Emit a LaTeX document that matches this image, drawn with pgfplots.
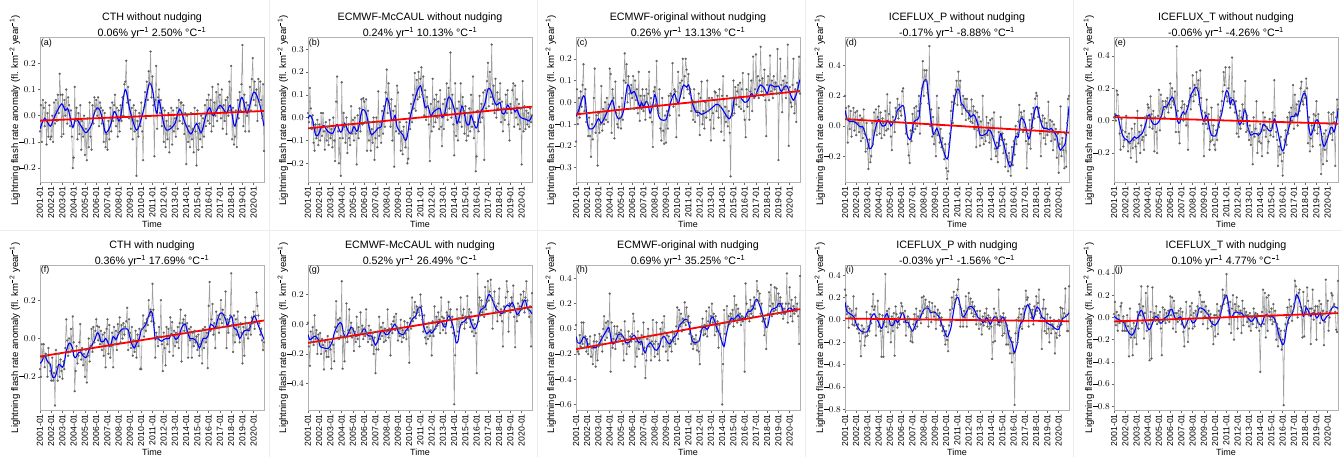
\documentclass[border=0pt]{standalone}
\usepackage{fontspec}
\setmainfont{Liberation Sans}
\usepackage{pgfplots}
\usepackage{pgfplotstable}
\pgfplotsset{compat=1.18}
\newcommand{\tk}{\fontsize{8.7}{10}\selectfont}
\newcommand{\tky}{\fontsize{9.3}{10}\selectfont}
\newcommand{\lb}{\fontsize{9}{10}\selectfont}
\newcommand{\yl}{\fontsize{9.6}{10}\selectfont}
\newcommand{\ttl}{\fontsize{10.7}{13}\selectfont}
\newcommand{\mi}{\hbox{\kern0.05em\rule[0.26em]{0.48em}{0.09em}\kern0.05em}}
\newcommand{\ylab}{Lightning flash rate anomaly (fl. km\textsuperscript{\mi2} year\textsuperscript{\mi1})}
\newcommand{\tline}[2]{#1\% yr\textsuperscript{\mi1} #2\% °C\textsuperscript{\mi1}}
\newcommand{\mn}[1]{\mbox{#1}}
\newcommand{\ylabfmt}{\pgfmathparse{\tick<-0.001}\ifdim\pgfmathresult pt>0.5pt \mi\fi\pgfmathparse{abs(\tick)}\pgfmathprintnumber[fixed,fixed zerofill,precision=1]{\pgfmathresult}}

% ---- gray monthly series (2001-01 ... 2020-12) ----
\pgfplotstableread[row sep=\\]{y\\
-0.06\\ 0.04\\ -0.10\\ 0.06\\ 0.03\\ -0.04\\ 0.05\\ -0.11\\ 0.01\\ -0.08\\ 0.04\\ -0.09\\
-0.08\\ 0.00\\ -0.10\\ 0.05\\ -0.03\\ 0.06\\ -0.02\\ 0.08\\ 0.01\\ 0.16\\ 0.08\\ -0.08\\
0.08\\ -0.07\\ 0.06\\ 0.00\\ 0.10\\ -0.03\\ 0.07\\ 0.04\\ -0.04\\ 0.02\\ -0.08\\ -0.20\\
-0.16\\ 0.11\\ -0.02\\ 0.03\\ -0.09\\ 0.01\\ -0.07\\ 0.04\\ -0.13\\ -0.02\\ -0.08\\ 0.00\\
-0.15\\ -0.05\\ -0.17\\ -0.01\\ -0.12\\ 0.05\\ -0.08\\ -0.13\\ 0.04\\ -0.03\\ 0.07\\ 0.02\\
0.06\\ 0.00\\ 0.07\\ -0.04\\ 0.05\\ 0.03\\ -0.03\\ 0.02\\ -0.10\\ 0.01\\ -0.12\\ -0.07\\
-0.13\\ -0.02\\ -0.09\\ 0.03\\ -0.06\\ 0.05\\ -0.02\\ 0.04\\ 0.08\\ -0.04\\ 0.03\\ -0.08\\
0.02\\ -0.06\\ 0.04\\ -0.02\\ 0.07\\ 0.00\\ 0.12\\ 0.13\\ 0.21\\ 0.05\\ 0.11\\ -0.01\\
0.06\\ -0.05\\ 0.03\\ -0.09\\ 0.04\\ -0.06\\ 0.02\\ -0.23\\ -0.02\\ -0.08\\ 0.01\\ -0.04\\
0.05\\ -0.06\\ -0.17\\ 0.03\\ 0.09\\ -0.01\\ 0.13\\ 0.06\\ 0.17\\ 0.12\\ 0.245\\ 0.07\\
0.15\\ 0.04\\ -0.155\\ 0.06\\ 0.19\\ -0.05\\ 0.07\\ 0.10\\ 0.01\\ 0.06\\ -0.04\\ 0.03\\
-0.10\\ 0.02\\ -0.12\\ -0.02\\ -0.09\\ 0.01\\ -0.14\\ -0.04\\ 0.03\\ -0.11\\ 0.02\\ -0.06\\
-0.01\\ -0.08\\ 0.03\\ -0.05\\ 0.06\\ -0.02\\ 0.05\\ 0.05\\ -0.03\\ 0.04\\ -0.07\\ 0.01\\
-0.185\\ 0.00\\ -0.10\\ -0.04\\ -0.12\\ 0.01\\ -0.09\\ -0.05\\ -0.14\\ 0.03\\ -0.06\\ -0.19\\
0.02\\ -0.13\\ -0.03\\ -0.09\\ 0.00\\ -0.12\\ -0.01\\ -0.08\\ 0.04\\ -0.04\\ 0.06\\ -0.02\\
0.08\\ -0.03\\ 0.06\\ -0.06\\ 0.11\\ -0.04\\ 0.05\\ 0.00\\ 0.09\\ -0.02\\ 0.12\\ 0.03\\
0.08\\ -0.01\\ 0.10\\ -0.05\\ 0.04\\ -0.02\\ 0.06\\ -0.07\\ 0.07\\ 0.00\\ 0.13\\ 0.02\\
0.19\\ -0.09\\ 0.03\\ -0.11\\ -0.08\\ 0.02\\ -0.12\\ 0.06\\ -0.01\\ 0.09\\ 0.02\\ 0.12\\
0.27\\ -0.04\\ 0.08\\ -0.06\\ 0.05\\ 0.00\\ 0.04\\ -0.06\\ 0.11\\ 0.02\\ 0.14\\ 0.22\\
0.06\\ 0.13\\ 0.04\\ 0.10\\ -0.02\\ 0.14\\ 0.05\\ 0.13\\ 0.06\\ -0.01\\ 0.12\\ -0.135\\
}\grA
\pgfplotstableread[row sep=\\]{y\\
0.02\\ -0.02\\ 0.13\\ 0.04\\ -0.05\\ 0.01\\ -0.11\\ -0.145\\ -0.03\\ -0.09\\ -0.01\\ -0.12\\
-0.03\\ -0.10\\ 0.02\\ -0.08\\ 0.02\\ -0.06\\ -0.14\\ -0.02\\ -0.10\\ -0.04\\ -0.12\\ -0.01\\
-0.09\\ -0.05\\ -0.13\\ 0.00\\ -0.10\\ -0.19\\ 0.07\\ 0.18\\ -0.06\\ -0.20\\ -0.09\\ -0.255\\
0.155\\ -0.09\\ 0.02\\ -0.04\\ -0.11\\ 0.00\\ -0.155\\ -0.03\\ -0.09\\ -0.12\\ 0.05\\ -0.07\\
-0.01\\ -0.10\\ 0.00\\ -0.07\\ -0.205\\ 0.01\\ -0.09\\ 0.04\\ -0.06\\ 0.08\\ -0.03\\ 0.085\\
0.07\\ -0.02\\ 0.08\\ -0.145\\ 0.03\\ -0.10\\ -0.02\\ -0.145\\ -0.05\\ -0.11\\ 0.00\\ -0.185\\
-0.09\\ 0.00\\ -0.13\\ 0.115\\ -0.08\\ -0.02\\ -0.11\\ 0.03\\ -0.07\\ 0.05\\ -0.04\\ 0.11\\
0.21\\ 0.02\\ 0.15\\ 0.06\\ -0.04\\ 0.08\\ -0.10\\ 0.03\\ -0.215\\ 0.05\\ -0.06\\ 0.14\\
0.11\\ -0.07\\ -0.02\\ -0.145\\ -0.06\\ -0.16\\ -0.04\\ -0.09\\ -0.13\\ -0.02\\ -0.20\\ -0.18\\
0.02\\ -0.05\\ 0.06\\ -0.02\\ 0.10\\ 0.04\\ 0.195\\ 0.03\\ 0.165\\ 0.08\\ 0.20\\ 0.09\\
0.17\\ 0.22\\ 0.10\\ 0.18\\ 0.01\\ 0.12\\ -0.01\\ 0.09\\ 0.05\\ -0.03\\ -0.19\\ 0.06\\
-0.06\\ 0.17\\ -0.04\\ 0.08\\ -0.02\\ 0.10\\ 0.00\\ 0.07\\ -0.05\\ 0.12\\ -0.04\\ -0.125\\
0.06\\ -0.05\\ 0.08\\ 0.02\\ 0.15\\ -0.01\\ 0.13\\ 0.04\\ 0.285\\ 0.00\\ 0.10\\ -0.03\\
-0.165\\ 0.15\\ -0.08\\ 0.04\\ -0.10\\ 0.07\\ -0.02\\ 0.15\\ -0.04\\ 0.09\\ 0.03\\ -0.07\\
0.05\\ -0.10\\ 0.02\\ -0.08\\ 0.04\\ -0.06\\ 0.10\\ -0.04\\ 0.18\\ -0.09\\ -0.02\\ -0.235\\
-0.17\\ 0.03\\ -0.06\\ 0.095\\ -0.02\\ 0.06\\ 0.00\\ 0.11\\ -0.185\\ 0.12\\ 0.04\\ 0.16\\
0.24\\ 0.05\\ 0.20\\ 0.09\\ 0.32\\ 0.06\\ 0.14\\ 0.02\\ 0.17\\ 0.00\\ 0.11\\ 0.04\\
0.08\\ 0.15\\ -0.02\\ 0.07\\ -0.06\\ 0.04\\ -0.01\\ 0.10\\ 0.02\\ 0.12\\ -0.03\\ -0.10\\
0.06\\ 0.02\\ 0.12\\ 0.15\\ -0.04\\ 0.14\\ 0.00\\ 0.08\\ -0.03\\ 0.06\\ -0.05\\ 0.04\\
-0.205\\ 0.16\\ -0.06\\ 0.05\\ -0.05\\ 0.03\\ -0.03\\ 0.02\\ -0.04\\ 0.04\\ -0.02\\ 0.01\\
}\grB
\pgfplotstableread[row sep=\\]{y\\
-0.18\\ 0.06\\ -0.10\\ 0.02\\ -0.07\\ 0.05\\ -0.02\\ 0.08\\ 0.175\\ -0.04\\ 0.06\\ -0.09\\
-0.05\\ -0.155\\ -0.07\\ -0.155\\ -0.25\\ -0.10\\ -0.17\\ 0.02\\ 0.155\\ -0.14\\ -0.06\\ -0.29\\
-0.05\\ -0.14\\ -0.10\\ 0.075\\ -0.13\\ -0.03\\ -0.10\\ 0.00\\ -0.08\\ 0.02\\ -0.09\\ -0.01\\
0.155\\ 0.13\\ -0.14\\ 0.06\\ 0.02\\ -0.165\\ 0.095\\ -0.05\\ -0.10\\ -0.115\\ -0.02\\ -0.07\\
-0.12\\ 0.02\\ -0.08\\ 0.10\\ 0.225\\ 0.09\\ 0.175\\ 0.00\\ 0.12\\ 0.04\\ -0.03\\ 0.08\\
0.02\\ 0.12\\ -0.03\\ 0.10\\ 0.01\\ 0.06\\ -0.05\\ 0.14\\ -0.085\\ 0.03\\ -0.03\\ 0.06\\
-0.04\\ 0.03\\ -0.08\\ 0.06\\ 0.00\\ 0.04\\ 0.14\\ -0.07\\ 0.02\\ -0.09\\ -0.205\\ 0.05\\
0.07\\ -0.01\\ 0.19\\ -0.03\\ -0.05\\ 0.06\\ -0.12\\ -0.175\\ 0.02\\ -0.13\\ -0.19\\ -0.06\\
-0.185\\ -0.04\\ -0.12\\ 0.03\\ -0.06\\ 0.04\\ 0.03\\ 0.18\\ -0.02\\ 0.06\\ 0.05\\ -0.16\\
0.01\\ 0.14\\ -0.06\\ 0.09\\ 0.04\\ 0.10\\ 0.20\\ 0.02\\ 0.12\\ 0.20\\ 0.15\\ 0.06\\
0.13\\ 0.04\\ 0.06\\ -0.04\\ 0.01\\ -0.08\\ 0.06\\ -0.09\\ 0.00\\ -0.04\\ -0.06\\ 0.04\\
-0.15\\ 0.02\\ 0.095\\ -0.10\\ -0.04\\ -0.12\\ 0.00\\ -0.07\\ 0.10\\ -0.04\\ 0.02\\ -0.08\\
-0.175\\ 0.02\\ -0.05\\ -0.12\\ 0.05\\ 0.045\\ -0.04\\ 0.03\\ -0.07\\ 0.06\\ -0.02\\ -0.135\\
0.03\\ 0.12\\ -0.175\\ -0.02\\ -0.09\\ 0.03\\ -0.11\\ -0.04\\ -0.14\\ -0.34\\ 0.02\\ -0.06\\
0.10\\ -0.05\\ 0.07\\ -0.01\\ 0.05\\ 0.08\\ -0.02\\ 0.09\\ -0.03\\ 0.06\\ 0.135\\ -0.04\\
-0.08\\ -0.16\\ 0.06\\ -0.02\\ 0.13\\ -0.08\\ 0.05\\ 0.10\\ -0.04\\ 0.21\\ 0.02\\ 0.06\\
0.22\\ 0.04\\ 0.12\\ 0.02\\ 0.10\\ 0.255\\ 0.05\\ 0.11\\ 0.03\\ 0.15\\ 0.01\\ -0.155\\
0.08\\ 0.12\\ 0.01\\ 0.215\\ 0.05\\ 0.10\\ 0.02\\ 0.12\\ 0.06\\ 0.09\\ 0.04\\ 0.245\\
-0.265\\ 0.04\\ 0.20\\ 0.08\\ -0.045\\ 0.10\\ 0.06\\ 0.12\\ 0.02\\ 0.09\\ 0.265\\ -0.20\\
0.07\\ 0.00\\ -0.02\\ 0.08\\ 0.20\\ -0.05\\ 0.06\\ -0.09\\ 0.09\\ 0.05\\ 0.21\\ 0.04\\
}\grC
\pgfplotstableread[row sep=\\]{y\\
0.20\\ 0.12\\ 0.05\\ -0.11\\ 0.13\\ -0.02\\ 0.10\\ -0.07\\ 0.04\\ 0.12\\ -0.03\\ 0.09\\
-0.06\\ 0.10\\ 0.02\\ -0.04\\ 0.07\\ -0.10\\ 0.05\\ -0.08\\ 0.11\\ -0.05\\ -0.17\\ 0.02\\
-0.15\\ -0.285\\ -0.09\\ -0.24\\ -0.20\\ 0.02\\ -0.12\\ 0.09\\ -0.03\\ 0.11\\ -0.06\\ 0.06\\
0.13\\ -0.05\\ 0.09\\ -0.08\\ 0.05\\ 0.02\\ -0.06\\ 0.10\\ -0.03\\ 0.21\\ -0.02\\ 0.08\\
0.155\\ -0.07\\ -0.16\\ 0.06\\ 0.03\\ -0.04\\ 0.12\\ 0.08\\ 0.18\\ 0.05\\ 0.14\\ 0.10\\
0.07\\ 0.23\\ 0.25\\ 0.12\\ 0.04\\ -0.05\\ 0.02\\ -0.12\\ -0.195\\ -0.245\\ -0.03\\ -0.10\\
0.08\\ -0.04\\ 0.12\\ -0.02\\ 0.13\\ 0.00\\ 0.10\\ 0.20\\ -0.05\\ 0.15\\ 0.25\\ 0.43\\
0.20\\ 0.37\\ 0.30\\ 0.37\\ 0.22\\ 0.15\\ 0.53\\ 0.00\\ 0.11\\ -0.07\\ 0.06\\ -0.12\\
-0.05\\ -0.20\\ 0.20\\ -0.06\\ 0.12\\ -0.11\\ -0.02\\ -0.14\\ -0.08\\ -0.16\\ -0.22\\ -0.12\\
-0.28\\ -0.35\\ -0.30\\ -0.12\\ -0.05\\ 0.10\\ 0.16\\ 0.02\\ 0.20\\ 0.15\\ 0.24\\ 0.30\\
0.14\\ 0.36\\ 0.22\\ 0.30\\ 0.14\\ 0.08\\ 0.20\\ 0.12\\ 0.18\\ 0.04\\ 0.18\\ 0.10\\
0.05\\ 0.10\\ 0.03\\ 0.175\\ 0.02\\ 0.13\\ -0.02\\ 0.10\\ -0.14\\ 0.09\\ -0.03\\ 0.06\\
-0.13\\ 0.03\\ -0.08\\ 0.20\\ -0.12\\ -0.03\\ -0.10\\ 0.06\\ -0.06\\ 0.02\\ -0.11\\ 0.04\\
-0.22\\ 0.05\\ -0.07\\ 0.09\\ -0.15\\ -0.20\\ -0.11\\ -0.24\\ -0.04\\ -0.13\\ 0.06\\ -0.09\\
-0.05\\ -0.18\\ -0.09\\ -0.27\\ -0.12\\ -0.20\\ -0.30\\ -0.18\\ -0.24\\ -0.33\\ -0.14\\ -0.26\\
-0.10\\ -0.19\\ 0.00\\ -0.12\\ -0.05\\ 0.03\\ 0.14\\ -0.02\\ 0.09\\ 0.06\\ -0.04\\ 0.10\\
-0.01\\ -0.10\\ -0.28\\ -0.05\\ -0.12\\ 0.04\\ -0.15\\ 0.08\\ -0.01\\ 0.12\\ 0.05\\ 0.18\\
0.22\\ 0.20\\ 0.06\\ 0.12\\ -0.05\\ -0.20\\ 0.03\\ 0.07\\ -0.08\\ 0.05\\ -0.12\\ 0.02\\
-0.06\\ 0.16\\ -0.04\\ 0.04\\ -0.10\\ 0.03\\ -0.16\\ 0.01\\ -0.09\\ -0.02\\ -0.21\\ -0.05\\
-0.31\\ -0.12\\ 0.13\\ -0.20\\ -0.08\\ -0.16\\ -0.28\\ -0.05\\ -0.27\\ 0.02\\ 0.18\\ 0.20\\
}\grD
\pgfplotstableread[row sep=\\]{y\\
0.02\\ 0.04\\ 0.00\\ 0.185\\ 0.16\\ 0.03\\ -0.08\\ -0.18\\ 0.01\\ -0.06\\ -0.16\\ -0.12\\
-0.07\\ 0.03\\ -0.10\\ -0.19\\ -0.08\\ -0.14\\ -0.23\\ -0.05\\ -0.17\\ -0.12\\ -0.02\\ -0.16\\
-0.255\\ 0.06\\ -0.14\\ -0.07\\ -0.20\\ -0.03\\ -0.12\\ -0.10\\ -0.18\\ 0.02\\ -0.09\\ 0.03\\
0.10\\ 0.08\\ -0.04\\ 0.15\\ 0.04\\ -0.05\\ 0.06\\ -0.19\\ 0.02\\ -0.07\\ -0.20\\ 0.03\\
0.19\\ -0.06\\ 0.16\\ 0.04\\ 0.12\\ 0.07\\ 0.02\\ 0.12\\ 0.08\\ 0.14\\ 0.05\\ 0.10\\
0.23\\ 0.08\\ 0.20\\ 0.12\\ 0.10\\ 0.18\\ -0.07\\ 0.46\\ 0.06\\ -0.07\\ -0.14\\ 0.02\\
0.08\\ 0.12\\ 0.00\\ 0.10\\ 0.04\\ -0.03\\ 0.09\\ -0.18\\ 0.12\\ 0.20\\ 0.07\\ 0.15\\
0.28\\ 0.12\\ 0.22\\ 0.16\\ 0.30\\ 0.20\\ 0.25\\ 0.10\\ 0.31\\ 0.14\\ 0.06\\ -0.02\\
-0.22\\ 0.05\\ -0.02\\ 0.13\\ -0.05\\ 0.04\\ -0.18\\ -0.13\\ 0.08\\ -0.12\\ -0.03\\ -0.15\\
-0.18\\ -0.06\\ -0.12\\ 0.10\\ -0.04\\ 0.02\\ 0.06\\ 0.12\\ 0.18\\ 0.30\\ 0.22\\ 0.33\\
0.15\\ 0.12\\ 0.20\\ 0.33\\ 0.08\\ 0.14\\ 0.39\\ 0.10\\ 0.18\\ 0.05\\ 0.12\\ -0.08\\
0.03\\ -0.10\\ 0.06\\ -0.05\\ 0.02\\ 0.10\\ -0.02\\ 0.07\\ 0.245\\ -0.07\\ 0.03\\ -0.06\\
-0.12\\ -0.03\\ -0.15\\ -0.07\\ -0.27\\ 0.02\\ -0.10\\ -0.05\\ 0.12\\ -0.20\\ -0.08\\ -0.13\\
-0.02\\ -0.14\\ -0.22\\ 0.05\\ -0.06\\ 0.02\\ -0.10\\ -0.04\\ -0.20\\ -0.13\\ 0.01\\ -0.09\\
-0.05\\ 0.05\\ -0.10\\ 0.25\\ 0.03\\ -0.07\\ -0.12\\ -0.28\\ -0.16\\ -0.21\\ -0.10\\ -0.25\\
-0.34\\ -0.20\\ -0.12\\ -0.06\\ -0.15\\ 0.02\\ -0.08\\ 0.05\\ -0.02\\ 0.08\\ 0.00\\ 0.22\\
-0.05\\ 0.16\\ 0.03\\ 0.10\\ -0.03\\ 0.12\\ 0.06\\ 0.20\\ 0.24\\ 0.12\\ 0.10\\ 0.18\\
0.14\\ 0.26\\ 0.20\\ -0.14\\ 0.02\\ -0.19\\ -0.11\\ -0.03\\ -0.16\\ 0.04\\ -0.06\\ 0.03\\
0.12\\ -0.08\\ 0.04\\ -0.04\\ -0.15\\ -0.33\\ -0.10\\ -0.27\\ -0.08\\ -0.18\\ -0.06\\ -0.25\\
-0.10\\ 0.05\\ -0.02\\ -0.08\\ 0.04\\ -0.12\\ 0.05\\ -0.01\\ -0.28\\ 0.02\\ 0.13\\ 0.07\\
}\grE
\pgfplotstableread[row sep=\\]{y\\
-0.16\\ -0.20\\ -0.03\\ -0.10\\ -0.03\\ -0.15\\ -0.08\\ -0.09\\ -0.20\\ -0.05\\ -0.13\\ -0.17\\
-0.22\\ -0.10\\ -0.22\\ -0.18\\ -0.35\\ -0.06\\ -0.15\\ -0.22\\ -0.08\\ -0.20\\ -0.11\\ -0.17\\
-0.21\\ -0.12\\ -0.16\\ -0.05\\ 0.10\\ -0.01\\ -0.09\\ 0.00\\ -0.07\\ 0.05\\ -0.06\\ 0.115\\
-0.02\\ -0.275\\ -0.17\\ -0.04\\ -0.13\\ -0.09\\ -0.02\\ 0.075\\ -0.11\\ -0.05\\ -0.14\\ -0.08\\
-0.20\\ -0.06\\ -0.23\\ -0.09\\ 0.00\\ -0.12\\ -0.04\\ 0.05\\ -0.07\\ 0.06\\ -0.02\\ 0.04\\
0.10\\ 0.065\\ -0.01\\ 0.06\\ -0.03\\ 0.04\\ -0.06\\ 0.02\\ -0.09\\ 0.03\\ -0.15\\ 0.05\\
0.10\\ -0.08\\ 0.07\\ -0.10\\ -0.04\\ 0.03\\ -0.15\\ 0.06\\ -0.03\\ 0.04\\ -0.06\\ 0.075\\
0.03\\ 0.11\\ -0.02\\ 0.07\\ 0.00\\ 0.08\\ 0.02\\ 0.06\\ 0.09\\ 0.16\\ -0.06\\ 0.10\\
0.03\\ -0.05\\ 0.06\\ -0.09\\ -0.01\\ -0.07\\ 0.04\\ -0.10\\ 0.02\\ -0.04\\ 0.05\\ -0.16\\
-0.16\\ 0.05\\ 0.12\\ 0.01\\ 0.08\\ 0.04\\ 0.10\\ 0.07\\ 0.20\\ 0.12\\ 0.15\\ 0.09\\
0.285\\ 0.15\\ 0.08\\ -0.10\\ 0.03\\ 0.00\\ -0.04\\ 0.06\\ 0.01\\ 0.20\\ -0.03\\ -0.17\\
0.03\\ -0.05\\ -0.14\\ 0.06\\ -0.03\\ 0.05\\ -0.07\\ 0.11\\ 0.02\\ 0.085\\ -0.09\\ 0.04\\
-0.04\\ 0.03\\ -0.02\\ 0.06\\ -0.05\\ 0.08\\ 0.15\\ -0.12\\ 0.08\\ 0.10\\ 0.04\\ 0.12\\
0.03\\ 0.08\\ -0.10\\ 0.05\\ -0.01\\ 0.06\\ -0.10\\ 0.03\\ -0.04\\ 0.04\\ -0.02\\ 0.01\\
-0.06\\ 0.02\\ -0.09\\ -0.03\\ 0.04\\ -0.13\\ 0.05\\ -0.05\\ 0.06\\ -0.02\\ 0.03\\ -0.155\\
0.17\\ 0.295\\ 0.04\\ 0.10\\ 0.18\\ 0.02\\ 0.08\\ -0.05\\ 0.14\\ 0.06\\ 0.12\\ 0.03\\
0.10\\ 0.20\\ 0.08\\ 0.15\\ 0.06\\ 0.12\\ 0.245\\ -0.05\\ 0.10\\ 0.03\\ 0.09\\ 0.12\\
0.34\\ 0.07\\ -0.07\\ 0.12\\ -0.02\\ 0.10\\ 0.02\\ 0.14\\ 0.06\\ -0.02\\ 0.08\\ 0.03\\
-0.13\\ 0.06\\ -0.09\\ 0.11\\ 0.02\\ 0.08\\ 0.00\\ 0.05\\ 0.07\\ 0.02\\ 0.11\\ 0.08\\
0.14\\ 0.05\\ 0.12\\ 0.24\\ 0.17\\ 0.12\\ 0.08\\ 0.02\\ 0.05\\ -0.01\\ -0.06\\ -0.02\\
}\grF
\pgfplotstableread[row sep=\\]{y\\
0.01\\ -0.15\\ -0.28\\ -0.05\\ -0.12\\ -0.02\\ -0.14\\ 0.06\\ -0.10\\ -0.04\\ -0.20\\ -0.07\\
-0.12\\ -0.06\\ -0.20\\ -0.10\\ -0.14\\ -0.305\\ -0.12\\ -0.18\\ -0.22\\ -0.08\\ -0.22\\ -0.12\\
-0.17\\ -0.30\\ -0.10\\ -0.14\\ -0.25\\ -0.02\\ 0.155\\ -0.05\\ 0.03\\ -0.10\\ 0.04\\ -0.08\\
0.29\\ -0.30\\ -0.05\\ -0.25\\ -0.09\\ 0.14\\ -0.12\\ -0.04\\ 0.10\\ -0.06\\ 0.01\\ -0.09\\
-0.03\\ -0.18\\ -0.05\\ -0.12\\ 0.05\\ -0.10\\ -0.02\\ -0.15\\ 0.08\\ -0.06\\ -0.01\\ -0.10\\
-0.03\\ -0.08\\ 0.10\\ -0.06\\ -0.12\\ -0.01\\ -0.10\\ -0.04\\ -0.14\\ -0.06\\ -0.20\\ -0.09\\
-0.33\\ -0.17\\ -0.05\\ -0.17\\ 0.05\\ -0.10\\ -0.02\\ -0.08\\ 0.01\\ -0.12\\ -0.03\\ -0.11\\
-0.05\\ 0.10\\ -0.09\\ -0.03\\ -0.21\\ 0.00\\ -0.06\\ 0.02\\ 0.05\\ -0.04\\ 0.07\\ -0.02\\
-0.11\\ -0.03\\ -0.08\\ 0.03\\ -0.12\\ -0.04\\ -0.09\\ 0.02\\ -0.06\\ -0.10\\ 0.01\\ -0.04\\
-0.26\\ 0.04\\ -0.03\\ 0.18\\ 0.02\\ 0.08\\ 0.15\\ 0.04\\ 0.12\\ 0.08\\ 0.11\\ 0.06\\
0.20\\ 0.12\\ 0.03\\ -0.05\\ 0.06\\ -0.09\\ -0.13\\ -0.02\\ -0.10\\ 0.01\\ -0.08\\ -0.04\\
-0.21\\ 0.02\\ -0.08\\ 0.12\\ -0.03\\ 0.05\\ -0.01\\ 0.08\\ 0.03\\ -0.06\\ 0.18\\ 0.05\\
-0.04\\ 0.04\\ 0.00\\ -0.06\\ 0.08\\ 0.06\\ 0.15\\ 0.03\\ 0.10\\ -0.02\\ 0.05\\ -0.06\\
-0.54\\ -0.21\\ -0.08\\ 0.10\\ -0.05\\ 0.04\\ -0.02\\ 0.18\\ 0.00\\ 0.06\\ 0.10\\ -0.03\\
0.05\\ 0.01\\ 0.19\\ 0.04\\ 0.10\\ -0.02\\ 0.08\\ -0.05\\ 0.03\\ -0.08\\ 0.00\\ -0.06\\
-0.33\\ 0.34\\ 0.02\\ 0.18\\ 0.06\\ 0.16\\ 0.08\\ 0.12\\ 0.05\\ 0.25\\ 0.10\\ 0.15\\
0.29\\ 0.16\\ 0.22\\ 0.30\\ 0.18\\ -0.03\\ 0.15\\ 0.22\\ 0.08\\ 0.12\\ 0.02\\ 0.14\\
0.24\\ 0.06\\ 0.10\\ 0.02\\ -0.15\\ 0.12\\ 0.08\\ 0.18\\ 0.29\\ 0.22\\ -0.05\\ 0.14\\
0.08\\ 0.18\\ 0.12\\ 0.26\\ 0.05\\ -0.155\\ 0.10\\ 0.02\\ 0.14\\ 0.06\\ 0.12\\ 0.20\\
0.10\\ 0.16\\ 0.22\\ 0.08\\ 0.18\\ 0.29\\ 0.16\\ 0.10\\ 0.05\\ 0.12\\ -0.15\\ 0.21\\
}\grG
\pgfplotstableread[row sep=\\]{y\\
0.03\\ -0.10\\ -0.18\\ -0.20\\ -0.05\\ -0.14\\ 0.05\\ -0.12\\ 0.05\\ -0.15\\ -0.06\\ -0.18\\
-0.08\\ -0.20\\ -0.12\\ -0.06\\ -0.22\\ -0.15\\ -0.28\\ -0.10\\ -0.05\\ -0.30\\ -0.10\\ -0.25\\
-0.14\\ -0.04\\ -0.12\\ -0.06\\ -0.18\\ 0.00\\ 0.10\\ -0.09\\ 0.05\\ -0.07\\ 0.06\\ -0.02\\
0.28\\ -0.34\\ 0.05\\ -0.15\\ -0.08\\ 0.02\\ -0.16\\ -0.04\\ 0.02\\ -0.10\\ -0.03\\ -0.08\\
-0.01\\ -0.06\\ -0.12\\ -0.25\\ 0.06\\ -0.08\\ -0.20\\ -0.12\\ -0.02\\ -0.14\\ -0.06\\ -0.10\\
-0.04\\ 0.12\\ 0.06\\ -0.30\\ -0.10\\ -0.22\\ -0.02\\ -0.16\\ -0.08\\ -0.12\\ -0.05\\ -0.20\\
0.05\\ -0.15\\ -0.39\\ -0.25\\ -0.08\\ 0.00\\ -0.14\\ -0.06\\ -0.25\\ -0.10\\ 0.07\\ -0.12\\
-0.22\\ -0.10\\ 0.05\\ -0.20\\ -0.12\\ -0.25\\ 0.00\\ -0.08\\ 0.05\\ -0.14\\ 0.10\\ -0.03\\
-0.18\\ -0.05\\ -0.25\\ -0.06\\ -0.14\\ -0.09\\ -0.18\\ -0.02\\ -0.10\\ -0.04\\ -0.12\\ 0.02\\
0.17\\ -0.08\\ 0.15\\ 0.02\\ 0.12\\ -0.02\\ 0.08\\ 0.05\\ 0.21\\ 0.03\\ 0.17\\ 0.06\\
0.10\\ -0.04\\ 0.05\\ -0.12\\ -0.06\\ -0.16\\ -0.08\\ -0.12\\ -0.05\\ -0.17\\ -0.10\\ -0.18\\
-0.28\\ -0.02\\ 0.02\\ 0.08\\ -0.05\\ 0.03\\ -0.04\\ 0.14\\ -0.06\\ 0.06\\ 0.17\\ 0.04\\
0.10\\ 0.20\\ 0.05\\ 0.12\\ -0.05\\ 0.10\\ -0.02\\ 0.06\\ -0.15\\ 0.03\\ -0.04\\ -0.08\\
-0.60\\ -0.28\\ 0.15\\ -0.04\\ 0.05\\ 0.18\\ 0.02\\ 0.10\\ 0.04\\ 0.12\\ 0.06\\ 0.15\\
0.02\\ 0.26\\ 0.08\\ 0.19\\ 0.05\\ 0.16\\ 0.08\\ 0.12\\ 0.03\\ 0.10\\ 0.06\\ 0.09\\
-0.34\\ 0.36\\ 0.20\\ 0.10\\ 0.15\\ 0.06\\ 0.23\\ 0.12\\ 0.18\\ 0.10\\ 0.25\\ 0.16\\
0.22\\ 0.38\\ 0.30\\ 0.22\\ 0.28\\ 0.12\\ 0.20\\ 0.06\\ 0.10\\ -0.05\\ 0.08\\ -0.16\\
0.02\\ 0.12\\ 0.29\\ 0.18\\ 0.35\\ 0.10\\ 0.20\\ 0.14\\ 0.33\\ 0.15\\ 0.32\\ 0.12\\
0.28\\ 0.18\\ 0.25\\ 0.12\\ 0.20\\ 0.08\\ 0.16\\ 0.12\\ 0.20\\ 0.44\\ 0.05\\ 0.20\\
0.33\\ 0.10\\ 0.23\\ 0.06\\ 0.18\\ 0.12\\ 0.25\\ 0.14\\ 0.20\\ 0.10\\ -0.12\\ 0.42\\
}\grH
\pgfplotstableread[row sep=\\]{y\\
0.27\\ 0.22\\ 0.05\\ 0.12\\ -0.07\\ 0.10\\ 0.02\\ 0.08\\ -0.04\\ 0.21\\ -0.05\\ 0.04\\
0.10\\ -0.08\\ -0.04\\ -0.12\\ -0.19\\ -0.325\\ -0.05\\ -0.12\\ -0.08\\ -0.23\\ -0.15\\ 0.07\\
-0.14\\ -0.06\\ -0.10\\ 0.05\\ -0.03\\ 0.12\\ 0.23\\ 0.09\\ 0.12\\ -0.14\\ 0.02\\ 0.17\\
-0.06\\ 0.05\\ -0.10\\ -0.33\\ 0.04\\ -0.33\\ -0.02\\ 0.41\\ -0.06\\ 0.08\\ -0.11\\ 0.10\\
-0.04\\ -0.20\\ 0.03\\ -0.10\\ 0.06\\ -0.32\\ 0.12\\ 0.05\\ -0.07\\ 0.02\\ -0.04\\ 0.06\\
0.15\\ 0.12\\ 0.06\\ -0.02\\ 0.08\\ -0.14\\ 0.00\\ 0.03\\ -0.06\\ 0.01\\ -0.19\\ -0.10\\
-0.20\\ -0.04\\ 0.05\\ -0.08\\ 0.10\\ -0.06\\ 0.03\\ 0.00\\ 0.08\\ -0.03\\ 0.20\\ 0.06\\
0.21\\ 0.10\\ 0.18\\ 0.02\\ 0.12\\ -0.06\\ 0.16\\ 0.08\\ -0.02\\ 0.15\\ 0.07\\ 0.03\\
0.12\\ -0.08\\ 0.05\\ 0.09\\ 0.01\\ 0.06\\ -0.05\\ 0.02\\ -0.10\\ -0.06\\ -0.14\\ -0.22\\
-0.10\\ -0.18\\ -0.28\\ -0.05\\ 0.09\\ -0.02\\ 0.20\\ 0.10\\ 0.25\\ 0.15\\ 0.18\\ 0.22\\
0.27\\ 0.36\\ 0.14\\ -0.06\\ 0.10\\ 0.04\\ -0.06\\ 0.08\\ 0.02\\ 0.21\\ -0.06\\ 0.10\\
0.24\\ 0.10\\ 0.19\\ 0.06\\ 0.16\\ 0.03\\ 0.12\\ 0.05\\ -0.04\\ 0.08\\ 0.00\\ -0.08\\
0.08\\ -0.04\\ -0.13\\ 0.03\\ -0.05\\ 0.06\\ -0.02\\ 0.10\\ -0.06\\ 0.04\\ -0.08\\ 0.02\\
-0.06\\ -0.35\\ -0.20\\ 0.10\\ -0.19\\ 0.06\\ 0.02\\ -0.04\\ 0.27\\ -0.05\\ 0.03\\ -0.02\\
-0.14\\ 0.06\\ -0.12\\ 0.02\\ -0.22\\ -0.05\\ -0.22\\ -0.10\\ -0.30\\ -0.16\\ -0.38\\ -0.20\\
-0.30\\ -0.76\\ -0.12\\ 0.00\\ -0.20\\ 0.02\\ 0.10\\ -0.06\\ 0.05\\ -0.08\\ 0.10\\ 0.02\\
0.12\\ 0.26\\ 0.18\\ 0.20\\ -0.06\\ 0.14\\ 0.07\\ 0.02\\ 0.09\\ -0.04\\ 0.12\\ 0.05\\
0.21\\ 0.08\\ 0.15\\ 0.27\\ 0.06\\ 0.02\\ -0.26\\ 0.10\\ 0.18\\ -0.10\\ 0.10\\ -0.12\\
0.05\\ -0.08\\ -0.20\\ 0.02\\ -0.12\\ -0.04\\ -0.08\\ 0.00\\ -0.30\\ -0.12\\ -0.16\\ -0.06\\
0.00\\ -0.14\\ 0.11\\ -0.04\\ 0.10\\ 0.02\\ 0.06\\ 0.28\\ 0.04\\ -0.10\\ -0.10\\ 0.30\\
}\grI
\pgfplotstableread[row sep=\\]{y\\
0.03\\ 0.14\\ -0.07\\ 0.05\\ -0.12\\ 0.02\\ -0.05\\ 0.10\\ 0.13\\ -0.12\\ 0.01\\ -0.12\\
-0.05\\ -0.12\\ 0.02\\ -0.08\\ -0.35\\ 0.08\\ -0.18\\ -0.10\\ -0.34\\ -0.05\\ -0.18\\ -0.08\\
-0.24\\ 0.05\\ -0.10\\ 0.12\\ 0.02\\ 0.28\\ -0.05\\ 0.10\\ -0.19\\ 0.04\\ 0.22\\ -0.12\\
0.28\\ -0.06\\ -0.385\\ 0.05\\ -0.37\\ 0.27\\ 0.00\\ 0.04\\ -0.03\\ 0.10\\ -0.06\\ 0.02\\
-0.04\\ 0.05\\ -0.10\\ -0.34\\ 0.09\\ -0.03\\ 0.07\\ -0.05\\ 0.04\\ -0.02\\ 0.06\\ -0.04\\
0.19\\ 0.02\\ 0.18\\ -0.10\\ 0.15\\ 0.04\\ -0.13\\ 0.04\\ -0.04\\ 0.06\\ -0.02\\ 0.08\\
-0.06\\ 0.05\\ -0.13\\ -0.26\\ -0.08\\ 0.14\\ -0.05\\ -0.22\\ -0.10\\ 0.10\\ 0.02\\ 0.13\\
-0.10\\ 0.04\\ -0.08\\ 0.06\\ 0.00\\ 0.10\\ 0.05\\ 0.23\\ 0.20\\ 0.05\\ 0.14\\ -0.06\\
0.14\\ 0.01\\ 0.10\\ 0.04\\ -0.10\\ 0.06\\ -0.02\\ 0.03\\ -0.08\\ -0.04\\ -0.24\\ 0.02\\
-0.17\\ 0.02\\ 0.12\\ -0.15\\ 0.06\\ 0.02\\ 0.10\\ 0.08\\ 0.25\\ 0.12\\ 0.20\\ 0.18\\
0.39\\ 0.13\\ 0.06\\ -0.06\\ 0.14\\ -0.14\\ 0.08\\ 0.20\\ -0.20\\ 0.12\\ 0.06\\ 0.18\\
-0.10\\ 0.10\\ 0.03\\ 0.06\\ -0.14\\ 0.15\\ -0.07\\ 0.08\\ 0.02\\ 0.05\\ -0.04\\ 0.02\\
-0.08\\ 0.04\\ -0.12\\ 0.00\\ -0.06\\ 0.08\\ 0.02\\ 0.04\\ -0.09\\ 0.03\\ -0.05\\ -0.12\\
-0.49\\ -0.08\\ 0.05\\ 0.25\\ -0.06\\ 0.22\\ -0.18\\ 0.18\\ -0.12\\ 0.20\\ 0.05\\ -0.02\\
0.08\\ -0.06\\ 0.12\\ -0.04\\ 0.06\\ -0.20\\ -0.06\\ -0.26\\ -0.10\\ -0.18\\ -0.12\\ -0.29\\
-0.20\\ -0.79\\ -0.12\\ -0.06\\ 0.00\\ 0.09\\ -0.05\\ 0.16\\ 0.02\\ 0.10\\ -0.03\\ 0.06\\
0.12\\ 0.33\\ 0.28\\ 0.18\\ 0.00\\ 0.22\\ 0.25\\ 0.10\\ 0.06\\ -0.18\\ 0.23\\ -0.17\\
0.10\\ 0.05\\ 0.27\\ 0.15\\ 0.02\\ 0.08\\ -0.24\\ 0.08\\ 0.25\\ -0.02\\ 0.06\\ 0.10\\
-0.20\\ 0.10\\ 0.04\\ 0.15\\ -0.05\\ 0.12\\ 0.02\\ 0.06\\ -0.25\\ -0.04\\ 0.34\\ 0.05\\
0.15\\ -0.12\\ 0.00\\ 0.06\\ 0.22\\ 0.20\\ 0.10\\ 0.12\\ 0.05\\ -0.11\\ -0.13\\ 0.33\\
}\grJ

% ---- blue smoothed curves (month index, value) ----
\pgfplotstableread[row sep=\\]{m y\\ 0 -0.05\\ 5 -0.01\\ 11 -0.04\\ 16 0.0\\ 23 0.045\\ 27 0.02\\ 30 0.025\\ 35 -0.045\\ 38 -0.01\\ 44 -0.04\\ 49 -0.065\\ 55 -0.035\\ 58 0.01\\ 61 0.03\\ 64 0.02\\ 67 -0.02\\ 70 -0.065\\ 75 -0.04\\ 79 0.015\\ 82 0.0\\ 84 -0.02\\ 86 -0.005\\ 91 0.1\\ 96 0.02\\ 103 -0.055\\ 109 0.0\\ 115 0.1\\ 117 0.125\\ 120 0.1\\ 123 0.03\\ 125 0.01\\ 127 0.06\\ 132 -0.03\\ 135 -0.055\\ 139 -0.05\\ 144 -0.03\\ 149 0.025\\ 155 -0.03\\ 161 -0.07\\ 167 -0.03\\ 172 -0.065\\ 177 0.0\\ 181 0.03\\ 185 0.0\\ 192 0.04\\ 199 0.01\\ 203 0.04\\ 208 -0.04\\ 215 0.07\\ 221 0.01\\ 228 0.09\\ 234 0.05\\ 239 -0.04\\}\blA
\pgfplotstableread[row sep=\\]{m y\\ 0 -0.005\\ 2 0.01\\ 5 -0.01\\ 8 -0.075\\ 11 -0.075\\ 14 -0.045\\ 17 -0.035\\ 21 -0.06\\ 26 -0.07\\ 28 -0.055\\ 31 -0.03\\ 34 -0.06\\ 36 -0.06\\ 39 -0.025\\ 43 -0.06\\ 46 -0.07\\ 49 -0.04\\ 52 -0.06\\ 54 -0.045\\ 57 0.025\\ 59 0.035\\ 62 0.02\\ 66 -0.055\\ 68 -0.075\\ 72 -0.06\\ 75 -0.045\\ 78 -0.04\\ 80 0.005\\ 83 0.065\\ 84 0.085\\ 86 0.07\\ 89 -0.005\\ 91 -0.01\\ 93 0.01\\ 95 -0.04\\ 98 -0.06\\ 101 -0.075\\ 104 -0.1\\ 106 -0.08\\ 109 0.0\\ 111 0.035\\ 114 0.08\\ 117 0.12\\ 120 0.14\\ 122 0.105\\ 125 0.045\\ 128 0.05\\ 131 0.005\\ 133 0.02\\ 137 0.035\\ 141 0.04\\ 143 0.0\\ 146 0.02\\ 149 0.08\\ 151 0.09\\ 154 0.065\\ 157 0.02\\ 159 -0.025\\ 162 0.01\\ 164 0.05\\ 166 0.035\\ 169 -0.025\\ 172 -0.03\\ 174 0.01\\ 177 -0.025\\ 180 -0.045\\ 184 0.025\\ 186 0.035\\ 189 0.065\\ 192 0.125\\ 195 0.12\\ 198 0.08\\ 201 0.055\\ 205 0.065\\ 207 0.02\\ 210 0.02\\ 213 0.055\\ 216 0.035\\ 219 0.04\\ 221 0.025\\ 223 0.035\\ 226 0.005\\ 230 -0.005\\ 233 -0.008\\ 236 -0.015\\ 239 0.01\\}\blB
\pgfplotstableread[row sep=\\]{m y\\ 0 -0.065\\ 3 -0.035\\ 5 -0.005\\ 8 0.03\\ 10 0.01\\ 12 -0.09\\ 14 -0.12\\ 18 -0.12\\ 21 -0.1\\ 24 -0.075\\ 27 -0.095\\ 30 -0.075\\ 34 -0.035\\ 37 -0.005\\ 39 0.01\\ 42 -0.045\\ 45 -0.075\\ 48 -0.07\\ 51 -0.035\\ 53 0.03\\ 55 0.08\\ 57 0.07\\ 59 0.04\\ 62 0.05\\ 65 0.02\\ 68 -0.02\\ 70 0.0\\ 72 -0.02\\ 75 0.005\\ 77 -0.01\\ 79 -0.05\\ 82 -0.01\\ 84 0.035\\ 86 0.01\\ 88 -0.06\\ 91 -0.08\\ 96 -0.08\\ 98 -0.05\\ 101 0.0\\ 105 0.04\\ 109 -0.005\\ 113 0.06\\ 115 0.08\\ 118 0.07\\ 120 0.08\\ 122 0.05\\ 124 0.0\\ 128 -0.045\\ 131 -0.045\\ 134 -0.055\\ 139 -0.045\\ 144 -0.03\\ 149 -0.01\\ 152 -0.01\\ 156 -0.03\\ 161 -0.065\\ 164 -0.075\\ 167 -0.04\\ 169 0.02\\ 172 0.02\\ 175 0.025\\ 180 0.0\\ 184 0.01\\ 187 0.04\\ 191 0.025\\ 194 0.06\\ 197 0.08\\ 201 0.065\\ 204 0.04\\ 207 0.08\\ 212 0.07\\ 216 0.075\\ 219 0.05\\ 222 0.07\\ 225 0.075\\ 228 0.045\\ 232 0.01\\ 236 0.05\\ 238 0.09\\ 239 0.105\\}\blC
\pgfplotstableread[row sep=\\]{m y\\ 0 0.105\\ 2 0.05\\ 5 0.03\\ 9 0.03\\ 12 0.02\\ 16 -0.005\\ 19 -0.005\\ 21 -0.04\\ 24 -0.095\\ 26 -0.15\\ 29 -0.135\\ 31 -0.06\\ 34 0.02\\ 36 0.045\\ 38 0.02\\ 40 0.0\\ 43 0.005\\ 45 0.035\\ 47 0.03\\ 49 0.0\\ 51 0.02\\ 54 0.05\\ 56 0.105\\ 60 0.13\\ 62 0.135\\ 64 0.075\\ 66 -0.05\\ 69 -0.09\\ 71 -0.07\\ 73 0.02\\ 76 0.04\\ 79 0.06\\ 81 0.195\\ 84 0.295\\ 87 0.305\\ 88 0.26\\ 91 0.075\\ 94 -0.05\\ 96 -0.04\\ 98 -0.015\\ 100 -0.05\\ 102 -0.095\\ 105 -0.16\\ 108 -0.215\\ 110 -0.205\\ 112 -0.095\\ 115 0.085\\ 117 0.185\\ 120 0.245\\ 122 0.23\\ 124 0.15\\ 126 0.14\\ 129 0.105\\ 132 0.085\\ 134 0.06\\ 137 0.075\\ 139 0.06\\ 142 0.005\\ 144 -0.06\\ 148 -0.06\\ 151 -0.05\\ 153 -0.025\\ 156 -0.04\\ 158 -0.08\\ 161 -0.135\\ 163 -0.15\\ 166 -0.05\\ 168 -0.09\\ 170 -0.135\\ 173 -0.215\\ 176 -0.27\\ 178 -0.245\\ 180 -0.15\\ 182 -0.07\\ 185 -0.07\\ 187 0.04\\ 189 0.05\\ 192 0.02\\ 195 -0.07\\ 197 -0.08\\ 200 0.03\\ 203 0.115\\ 205 0.13\\ 207 0.075\\ 210 0.005\\ 212 -0.015\\ 215 -0.015\\ 218 -0.025\\ 220 -0.015\\ 223 -0.04\\ 226 -0.07\\ 228 -0.135\\ 230 -0.16\\ 233 -0.135\\ 235 -0.115\\ 237 -0.005\\ 239 0.13\\}\blD
\pgfplotstableread[row sep=\\]{m y\\ 0 0.015\\ 2 0.035\\ 4 0.03\\ 6 -0.02\\ 8 -0.07\\ 11 -0.11\\ 14 -0.12\\ 16 -0.135\\ 19 -0.12\\ 22 -0.1\\ 24 -0.11\\ 28 -0.09\\ 30 -0.08\\ 33 -0.035\\ 36 0.025\\ 38 0.035\\ 40 -0.005\\ 43 -0.025\\ 46 -0.02\\ 48 -0.005\\ 51 0.035\\ 53 0.085\\ 56 0.085\\ 58 0.105\\ 61 0.14\\ 63 0.14\\ 66 0.065\\ 68 -0.005\\ 70 -0.015\\ 72 0.035\\ 74 0.055\\ 76 0.04\\ 79 0.085\\ 82 0.16\\ 84 0.18\\ 86 0.2\\ 88 0.205\\ 90 0.175\\ 92 0.09\\ 94 0.025\\ 96 -0.005\\ 98 0.035\\ 100 0.01\\ 102 -0.05\\ 104 -0.09\\ 108 -0.095\\ 110 -0.07\\ 112 -0.015\\ 115 0.045\\ 118 0.14\\ 120 0.185\\ 122 0.17\\ 124 0.1\\ 126 0.13\\ 128 0.12\\ 130 0.07\\ 132 0.015\\ 134 -0.025\\ 137 0.005\\ 139 0.065\\ 141 0.045\\ 143 -0.045\\ 146 -0.09\\ 149 -0.08\\ 152 -0.08\\ 154 -0.09\\ 157 -0.07\\ 159 -0.025\\ 162 -0.035\\ 165 -0.06\\ 168 -0.06\\ 171 0.01\\ 174 -0.045\\ 177 -0.13\\ 179 -0.18\\ 181 -0.18\\ 184 -0.1\\ 187 -0.035\\ 189 0.025\\ 192 0.025\\ 194 0.045\\ 196 0.03\\ 198 0.085\\ 201 0.15\\ 203 0.17\\ 205 0.15\\ 206 0.07\\ 208 -0.045\\ 210 -0.09\\ 213 -0.045\\ 215 -0.005\\ 217 0.005\\ 220 -0.035\\ 222 -0.12\\ 224 -0.16\\ 226 -0.14\\ 229 -0.09\\ 231 -0.045\\ 233 -0.045\\ 235 -0.07\\ 238 0.015\\ 239 0.075\\}\blE
\pgfplotstableread[row sep=\\]{m y\\ 0 -0.13\\ 2 -0.12\\ 5 -0.09\\ 8 -0.12\\ 11 -0.135\\ 13 -0.195\\ 15 -0.205\\ 17 -0.19\\ 20 -0.135\\ 24 -0.15\\ 26 -0.125\\ 28 -0.065\\ 31 -0.025\\ 33 -0.03\\ 35 -0.055\\ 36 -0.09\\ 38 -0.1\\ 41 -0.075\\ 43 -0.07\\ 46 -0.09\\ 49 -0.1\\ 51 -0.08\\ 53 -0.05\\ 56 -0.03\\ 59 0.0\\ 61 0.03\\ 63 0.02\\ 65 -0.015\\ 68 -0.015\\ 70 0.0\\ 72 -0.015\\ 74 -0.04\\ 76 -0.025\\ 78 0.01\\ 81 -0.005\\ 83 0.015\\ 85 0.035\\ 88 0.05\\ 91 0.05\\ 94 0.045\\ 97 -0.015\\ 99 -0.04\\ 101 -0.05\\ 103 -0.025\\ 106 0.0\\ 108 0.045\\ 110 0.055\\ 113 0.075\\ 116 0.12\\ 118 0.14\\ 120 0.13\\ 122 0.04\\ 123 -0.005\\ 125 0.01\\ 127 -0.005\\ 130 -0.015\\ 132 -0.005\\ 135 0.0\\ 138 0.0\\ 140 0.025\\ 143 0.01\\ 145 -0.005\\ 148 0.01\\ 150 0.04\\ 152 0.065\\ 155 0.075\\ 157 0.04\\ 160 0.0\\ 163 0.0\\ 165 -0.005\\ 168 -0.025\\ 170 -0.05\\ 172 -0.03\\ 174 0.0\\ 177 0.0\\ 179 0.01\\ 181 0.055\\ 182 0.075\\ 185 0.065\\ 187 0.055\\ 189 0.09\\ 192 0.13\\ 195 0.13\\ 198 0.1\\ 200 0.065\\ 203 0.11\\ 205 0.11\\ 207 0.055\\ 210 0.045\\ 213 0.0\\ 215 0.015\\ 218 0.04\\ 221 0.045\\ 223 0.04\\ 225 0.075\\ 228 0.115\\ 230 0.11\\ 232 0.08\\ 234 0.055\\ 237 0.02\\ 239 -0.005\\}\blF
\pgfplotstableread[row sep=\\]{m y\\ 0 -0.07\\ 2 -0.105\\ 5 -0.09\\ 8 -0.08\\ 11 -0.105\\ 13 -0.15\\ 17 -0.16\\ 21 -0.165\\ 23 -0.155\\ 26 -0.115\\ 28 -0.06\\ 31 -0.015\\ 34 0.01\\ 36 0.0\\ 38 -0.06\\ 40 -0.09\\ 43 -0.06\\ 46 -0.02\\ 48 -0.035\\ 51 -0.08\\ 53 -0.075\\ 56 -0.07\\ 59 -0.035\\ 61 -0.035\\ 63 -0.07\\ 65 -0.08\\ 68 -0.08\\ 70 -0.115\\ 72 -0.14\\ 75 -0.105\\ 77 -0.06\\ 80 -0.045\\ 83 -0.07\\ 85 -0.07\\ 88 -0.045\\ 90 -0.025\\ 93 0.0\\ 97 -0.06\\ 100 -0.07\\ 102 -0.07\\ 104 -0.045\\ 107 -0.025\\ 110 0.02\\ 112 0.04\\ 115 0.055\\ 117 0.1\\ 119 0.115\\ 121 0.1\\ 123 0.0\\ 125 -0.045\\ 127 -0.065\\ 130 -0.045\\ 132 -0.06\\ 135 -0.035\\ 138 0.0\\ 140 0.01\\ 142 0.02\\ 145 -0.015\\ 147 -0.015\\ 149 0.045\\ 151 0.055\\ 153 0.02\\ 155 -0.02\\ 157 -0.09\\ 158 -0.125\\ 160 -0.115\\ 162 -0.025\\ 164 0.01\\ 167 0.02\\ 170 0.045\\ 172 0.055\\ 174 0.01\\ 177 -0.03\\ 179 -0.025\\ 181 0.01\\ 183 0.075\\ 185 0.1\\ 187 0.11\\ 189 0.115\\ 191 0.17\\ 193 0.2\\ 195 0.19\\ 198 0.145\\ 200 0.11\\ 203 0.09\\ 205 0.075\\ 208 0.075\\ 210 0.11\\ 213 0.13\\ 215 0.12\\ 218 0.145\\ 221 0.1\\ 223 0.065\\ 225 0.075\\ 227 0.1\\ 230 0.155\\ 232 0.16\\ 234 0.11\\ 237 0.09\\ 239 0.07\\}\blG
\pgfplotstableread[row sep=\\]{m y\\ 0 -0.06\\ 2 -0.11\\ 5 -0.11\\ 8 -0.065\\ 11 -0.085\\ 13 -0.14\\ 16 -0.14\\ 18 -0.15\\ 21 -0.15\\ 24 -0.125\\ 27 -0.085\\ 30 -0.045\\ 32 -0.02\\ 35 0.01\\ 37 -0.06\\ 38 -0.1\\ 40 -0.12\\ 43 -0.085\\ 45 -0.045\\ 48 -0.04\\ 51 -0.07\\ 53 -0.11\\ 55 -0.11\\ 58 -0.1\\ 60 -0.06\\ 62 -0.05\\ 64 -0.07\\ 67 -0.11\\ 70 -0.1\\ 72 -0.165\\ 74 -0.19\\ 76 -0.14\\ 79 -0.11\\ 81 -0.125\\ 84 -0.165\\ 86 -0.17\\ 89 -0.14\\ 91 -0.085\\ 94 -0.06\\ 98 -0.11\\ 100 -0.12\\ 102 -0.1\\ 104 -0.07\\ 107 -0.05\\ 109 -0.005\\ 111 0.035\\ 114 0.055\\ 116 0.075\\ 118 0.075\\ 120 0.05\\ 122 -0.02\\ 124 -0.095\\ 126 -0.11\\ 128 -0.11\\ 131 -0.1\\ 133 -0.045\\ 135 0.01\\ 138 0.01\\ 140 -0.005\\ 142 0.02\\ 144 0.08\\ 146 0.095\\ 148 0.06\\ 150 0.01\\ 152 -0.02\\ 154 -0.06\\ 156 -0.11\\ 158 -0.14\\ 160 -0.06\\ 162 0.01\\ 164 0.06\\ 166 0.085\\ 168 0.075\\ 171 0.095\\ 173 0.11\\ 175 0.085\\ 177 0.085\\ 180 0.075\\ 182 0.12\\ 184 0.14\\ 186 0.14\\ 189 0.165\\ 191 0.22\\ 193 0.235\\ 195 0.205\\ 198 0.14\\ 200 0.085\\ 203 0.01\\ 205 0.035\\ 207 0.12\\ 209 0.155\\ 211 0.16\\ 214 0.17\\ 216 0.2\\ 218 0.2\\ 220 0.165\\ 222 0.125\\ 225 0.14\\ 227 0.165\\ 230 0.16\\ 231 0.14\\ 233 0.16\\ 236 0.155\\ 239 0.155\\}\blH
\pgfplotstableread[row sep=\\]{m y\\ 0 0.16\\ 2 0.075\\ 5 0.055\\ 8 0.04\\ 10 0.02\\ 12 -0.04\\ 14 -0.07\\ 17 -0.1\\ 20 -0.11\\ 23 -0.11\\ 26 -0.07\\ 28 0.02\\ 31 0.055\\ 33 0.025\\ 36 -0.025\\ 38 -0.07\\ 40 -0.065\\ 43 0.035\\ 45 0.055\\ 47 0.005\\ 49 -0.05\\ 52 -0.04\\ 54 0.01\\ 56 -0.025\\ 59 0.02\\ 61 0.065\\ 63 0.04\\ 65 -0.025\\ 67 -0.02\\ 69 -0.055\\ 72 -0.1\\ 74 -0.07\\ 77 -0.005\\ 79 0.0\\ 81 0.035\\ 84 0.09\\ 86 0.105\\ 89 0.105\\ 91 0.065\\ 94 0.065\\ 96 0.07\\ 99 0.04\\ 101 0.02\\ 103 -0.04\\ 106 -0.1\\ 108 -0.145\\ 110 -0.145\\ 113 -0.07\\ 115 0.035\\ 117 0.135\\ 119 0.195\\ 121 0.195\\ 123 0.12\\ 126 0.025\\ 130 0.075\\ 132 0.115\\ 135 0.12\\ 138 0.09\\ 140 0.055\\ 142 0.02\\ 145 0.005\\ 147 -0.025\\ 149 -0.01\\ 151 0.02\\ 153 -0.005\\ 155 -0.04\\ 157 -0.01\\ 159 0.025\\ 162 0.02\\ 164 -0.025\\ 166 -0.005\\ 168 0.025\\ 171 -0.005\\ 173 -0.07\\ 175 -0.145\\ 178 -0.205\\ 180 -0.28\\ 181 -0.295\\ 184 -0.205\\ 186 -0.07\\ 188 -0.025\\ 190 -0.01\\ 192 0.075\\ 195 0.135\\ 199 0.055\\ 201 0.005\\ 203 0.075\\ 205 0.115\\ 208 0.085\\ 210 0.025\\ 213 0.01\\ 215 -0.025\\ 218 -0.04\\ 221 -0.05\\ 223 -0.07\\ 226 -0.085\\ 228 -0.085\\ 230 -0.04\\ 232 0.01\\ 234 0.02\\ 237 0.04\\ 239 0.065\\}\blI
\pgfplotstableread[row sep=\\]{m y\\ 0 0.01\\ 3 -0.01\\ 5 -0.02\\ 8 -0.03\\ 11 -0.05\\ 13 -0.095\\ 16 -0.14\\ 19 -0.16\\ 22 -0.125\\ 24 -0.065\\ 26 0.02\\ 29 0.065\\ 31 0.035\\ 33 -0.02\\ 35 -0.065\\ 37 -0.11\\ 39 -0.095\\ 42 -0.03\\ 44 0.01\\ 47 -0.005\\ 49 -0.05\\ 51 -0.05\\ 54 -0.005\\ 56 0.005\\ 58 0.02\\ 60 0.07\\ 62 0.07\\ 64 0.02\\ 66 -0.02\\ 68 -0.01\\ 71 0.005\\ 73 -0.05\\ 75 -0.095\\ 77 -0.065\\ 80 -0.005\\ 82 -0.02\\ 84 -0.05\\ 87 -0.03\\ 89 0.02\\ 91 0.085\\ 94 0.08\\ 96 0.07\\ 99 0.04\\ 101 0.02\\ 103 -0.035\\ 106 -0.065\\ 108 -0.07\\ 110 -0.05\\ 113 -0.005\\ 115 0.085\\ 118 0.175\\ 120 0.2\\ 122 0.13\\ 124 0.01\\ 126 0.005\\ 128 0.04\\ 131 0.05\\ 133 0.04\\ 136 0.04\\ 139 0.01\\ 141 0.02\\ 143 -0.005\\ 146 -0.035\\ 148 -0.03\\ 151 0.005\\ 154 -0.05\\ 157 -0.07\\ 159 -0.03\\ 161 0.02\\ 164 0.02\\ 166 0.005\\ 170 0.005\\ 173 -0.05\\ 175 -0.125\\ 177 -0.185\\ 180 -0.245\\ 182 -0.215\\ 184 -0.095\\ 186 -0.02\\ 188 0.01\\ 190 0.035\\ 192 0.085\\ 194 0.19\\ 195 0.205\\ 197 0.175\\ 200 0.085\\ 202 0.01\\ 204 0.055\\ 205 0.09\\ 207 0.065\\ 210 0.01\\ 212 0.04\\ 214 0.04\\ 216 -0.005\\ 218 0.01\\ 220 0.04\\ 222 -0.02\\ 224 -0.03\\ 227 0.01\\ 229 0.02\\ 231 0.06\\ 233 0.09\\ 235 0.1\\ 238 0.085\\ 239 0.085\\}\blJ

\pgfplotsset{
  pan/.style={
    scale only axis, width=224pt, height=145pt, anchor=north west,
    xmin=0, xmax=239,
    xtick={0,12,...,228},
    xticklabels={\mn{2001-01},\mn{2002-01},\mn{2003-01},\mn{2004-01},\mn{2005-01},\mn{2006-01},\mn{2007-01},\mn{2008-01},\mn{2009-01},\mn{2010-01},\mn{2011-01},\mn{2012-01},\mn{2013-01},\mn{2014-01},\mn{2015-01},\mn{2016-01},\mn{2017-01},\mn{2018-01},\mn{2019-01},\mn{2020-01}},
    xticklabel style={rotate=90, anchor=east, font=\tk, inner sep=1pt},
    yticklabel={\ylabfmt},
    yticklabel style={font=\tky, inner sep=1.5pt},
    tick align=outside, major tick length=2.5pt,
    tick style={draw=black!60, line width=0.5pt},
    axis line style={draw=black!30, line width=0.8pt},
    xtick pos=left, ytick pos=left,
    scaled y ticks=false,
    ylabel={\ylab},
    ylabel style={at={(axis description cs:-0.112,0.5)}, anchor=center, font=\yl},
    xlabel={Time},
    xlabel style={at={(axis description cs:0.5,-0.285)}, anchor=center, font=\lb},
    every axis title shift=0pt,
    title style={at={(axis description cs:0.5,1)}, anchor=south, align=center, font=\ttl, inner sep=0pt, yshift=-1.2pt},
  },
  gr/.style={draw=black!38, line width=0.55pt, mark=*, mark size=1.05pt, mark options={draw=black!62, fill=black!62, line width=0.2pt}},
  bl/.style={draw=blue, line width=1.1pt, smooth, tension=0.5, no markers},
  rd/.style={draw=red, line width=1.8pt, no markers},
}
\tikzset{plab/.style={anchor=north west, inner sep=0.6pt, font=\lb}}

\begin{document}
\begin{tikzpicture}
\useasboundingbox (0,0) rectangle (1342pt,-457pt);
\foreach \xx in {269.5,537.5,805.5,1073.5} {\draw[black!7, line width=0.7pt] (\xx pt,0) -- (\xx pt,-457pt);}
\draw[black!7, line width=0.7pt] (0,-230.5pt) -- (1342pt,-230.5pt);

% (a)
\begin{axis}[pan, at={(40pt,-37.7pt)}, ymin=-0.256, ymax=0.298,
  ytick={-0.2,-0.1,0,0.1,0.2},
  title={CTH without nudging\\[3pt]\tline{0.06}{2.50}}]
\addplot[gr] table[x expr=\coordindex, y=y] {\grA};
\addplot[bl] table[x=m, y=y] {\blA};
\addplot[rd] coordinates {(0,-0.019) (239,0.018)};
\node[plab] at (rel axis cs:0,1) {(a)};
\end{axis}
% (b)
\begin{axis}[pan, at={(308pt,-37.7pt)}, ymin=-0.285, ymax=0.350,
  ytick={-0.2,-0.1,0,0.1,0.2,0.3},
  title={ECMWF-McCAUL without nudging\\[3pt]\tline{0.24}{10.13}}]
\addplot[gr] table[x expr=\coordindex, y=y] {\grB};
\addplot[bl] table[x=m, y=y] {\blB};
\addplot[rd] coordinates {(0,-0.047) (239,0.048)};
\node[plab] at (rel axis cs:0,1) {(b)};
\end{axis}
% (c)
\begin{axis}[pan, at={(576pt,-37.7pt)}, ymin=-0.369, ymax=0.297,
  ytick={-0.3,-0.2,-0.1,0,0.1,0.2},
  title={ECMWF-original without nudging\\[3pt]\tline{0.26}{13.13}}]
\addplot[gr] table[x expr=\coordindex, y=y] {\grC};
\addplot[bl] table[x=m, y=y] {\blC};
\addplot[rd] coordinates {(0,-0.055) (239,0.052)};
\node[plab] at (rel axis cs:0,1) {(c)};
\end{axis}
% (d)
\begin{axis}[pan, at={(845pt,-37.7pt)}, ymin=-0.376, ymax=0.586,
  ytick={-0.2,0,0.2,0.4},
  title={ICEFLUX\_P without nudging\\[3pt]\tline{-0.17}{-8.88}}]
\addplot[gr] table[x expr=\coordindex, y=y] {\grD};
\addplot[bl] table[x=m, y=y] {\blD};
\addplot[rd] coordinates {(0,0.046) (239,-0.044)};
\node[plab] at (rel axis cs:0,1) {(d)};
\end{axis}
% (e)
\begin{axis}[pan, at={(1114pt,-37.7pt)}, ymin=-0.384, ymax=0.513,
  ytick={-0.2,0,0.2,0.4},
  title={ICEFLUX\_T without nudging\\[3pt]\tline{-0.06}{-4.26}}]
\addplot[gr] table[x expr=\coordindex, y=y] {\grE};
\addplot[bl] table[x=m, y=y] {\blE};
\addplot[rd] coordinates {(0,0.021) (239,-0.019)};
\node[plab] at (rel axis cs:0,1) {(e)};
\end{axis}
% (f)
\begin{axis}[pan, at={(40pt,-265.5pt)}, ymin=-0.376, ymax=0.381,
  ytick={-0.2,0,0.2},
  title={CTH with nudging\\[3pt]\tline{0.36}{17.69}}]
\addplot[gr] table[x expr=\coordindex, y=y] {\grF};
\addplot[bl] table[x=m, y=y] {\blF};
\addplot[rd] coordinates {(0,-0.094) (239,0.094)};
\node[plab] at (rel axis cs:0,1) {(f)};
\end{axis}
% (g)
\begin{axis}[pan, at={(308pt,-265.5pt)}, ymin=-0.582, ymax=0.396,
  ytick={-0.4,-0.2,0,0.2},
  title={ECMWF-McCAUL with nudging\\[3pt]\tline{0.52}{26.49}}]
\addplot[gr] table[x expr=\coordindex, y=y] {\grG};
\addplot[bl] table[x=m, y=y] {\blG};
\addplot[rd] coordinates {(0,-0.126) (239,0.117)};
\node[plab] at (rel axis cs:0,1) {(g)};
\end{axis}
% (h)
\begin{axis}[pan, at={(576pt,-265.5pt)}, ymin=-0.648, ymax=0.503,
  ytick={-0.6,-0.4,-0.2,0,0.2,0.4},
  title={ECMWF-original with nudging\\[3pt]\tline{0.69}{35.25}}]
\addplot[gr] table[x expr=\coordindex, y=y] {\grH};
\addplot[bl] table[x=m, y=y] {\blH};
\addplot[rd] coordinates {(0,-0.161) (239,0.156)};
\node[plab] at (rel axis cs:0,1) {(h)};
\end{axis}
% (i)
\begin{axis}[pan, at={(845pt,-265.5pt)}, ymin=-0.81, ymax=0.486,
  ytick={-0.8,-0.6,-0.4,-0.2,0,0.2,0.4},
  title={ICEFLUX\_P with nudging\\[3pt]\tline{-0.03}{-1.56}}]
\addplot[gr] table[x expr=\coordindex, y=y] {\grI};
\addplot[bl] table[x=m, y=y] {\blI};
\addplot[rd] coordinates {(0,0.012) (239,-0.012)};
\node[plab] at (rel axis cs:0,1) {(i)};
\end{axis}
% (j)
\begin{axis}[pan, at={(1114pt,-265.5pt)}, ymin=-0.838, ymax=0.468,
  ytick={-0.8,-0.6,-0.4,-0.2,0,0.2,0.4},
  title={ICEFLUX\_T with nudging\\[3pt]\tline{0.10}{4.77}}]
\addplot[gr] table[x expr=\coordindex, y=y] {\grJ};
\addplot[bl] table[x=m, y=y] {\blJ};
\addplot[rd] coordinates {(0,-0.036) (239,0.039)};
\node[plab] at (rel axis cs:0,1) {(j)};
\end{axis}
\end{tikzpicture}
\end{document}
